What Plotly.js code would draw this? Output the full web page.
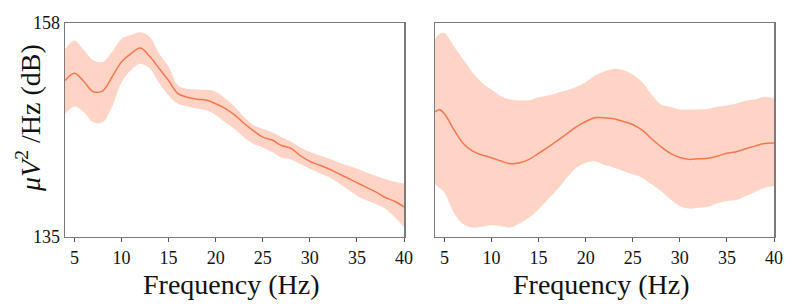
<!DOCTYPE html>
<html>
<head>
<meta charset="utf-8">
<script src="https://cdn.plot.ly/plotly-3.0.1.min.js"></script>
<style>html,body{margin:0;padding:0;background:#fff;}#chart{width:797px;height:307px;}</style>
</head>
<body>
<div id="chart"></div>
<script>
// Left panel
const freqLeft = [4,5,6,7,8,9,10,11,12,13,14,15,16,17,18,19,20,21,22,23,24,25,26,27,28,29,30,31,32,33,34,35,36,37,38,39,40];
const meanLeft = [151.8,152.6,151.7,150.6,150.7,152.2,153.8,154.7,155.3,154.4,153.1,151.8,150.4,150.0,149.8,149.7,149.3,148.8,148.1,147.2,146.4,145.7,145.4,144.8,144.5,143.7,143.1,142.7,142.3,141.8,141.3,140.8,140.3,139.8,139.2,138.8,138.2];
const upperLeft = [155.2,156.1,155.1,154.0,153.8,154.9,156.3,156.7,157.0,156.5,154.7,153.3,151.3,150.9,150.85,150.8,150.6,149.9,149.0,147.9,147.0,146.6,146.2,145.7,145.2,144.6,144.1,143.75,143.4,143.0,142.65,142.3,141.9,141.55,141.2,140.9,140.7];
const lowerLeft = [148.2,149.0,148.4,147.3,147.3,149.0,151.6,152.9,153.6,153.1,151.5,150.2,149.3,149.0,148.8,148.6,148.1,147.3,146.6,145.7,145.0,144.6,144.1,143.5,143.3,142.8,142.3,141.85,141.4,140.8,140.1,139.4,138.9,138.5,138.0,137.1,136.0];

// Right panel
const freqRight = [4,4.5,5,6,7,8,9,10,11,12,13,14,15,16,17,18,19,20,21,22,23,24,25,26,27,28,29,30,31,32,33,34,35,36,37,38,39,40];
const meanRight = [148.43,148.65,148.22,146.53,145.03,144.21,143.78,143.49,143.13,142.84,142.95,143.31,143.96,144.64,145.32,146.07,146.82,147.39,147.79,147.79,147.68,147.39,147.07,146.46,145.53,144.67,143.96,143.52,143.31,143.38,143.42,143.67,143.96,144.13,144.46,144.74,145.03,145.07];
const upperRight = [156.28,156.85,156.93,155.49,154.06,152.63,151.55,150.83,150.12,149.76,149.65,149.69,150.01,150.19,150.48,150.76,151.12,151.62,152.34,152.80,153.06,152.91,152.45,151.62,150.30,149.22,148.97,148.68,148.68,148.68,148.76,148.97,149.11,149.33,149.65,149.76,150.05,149.87];
const lowerRight = [140.62,140.2,139.73,137.58,136.32,135.96,136.07,136.22,136.14,135.96,136.43,137.04,137.94,139.01,140.09,141.34,142.41,142.95,143.09,142.70,142.41,142.06,141.70,141.34,140.62,139.91,139.01,138.29,138.01,138.11,138.22,138.58,138.83,138.94,139.37,139.80,140.26,140.44];

const xTicks = [5,10,15,20,25,30,35,40];
const yTicks = [135,158];
const xTitle = 'Frequency (Hz)';
const yTitle = '<i>μV</i><sup>2</sup> /Hz (dB)';

const lineColor = '#f5774e';
const fillColor = 'rgba(252,170,140,0.5)';

function band(x, lo, hi, mean, xa, ya) {
  return [
    {x: x, y: lo, xaxis: xa, yaxis: ya, mode: 'lines', line: {width: 0, shape: 'spline'}, hoverinfo: 'skip', showlegend: false},
    {x: x, y: hi, xaxis: xa, yaxis: ya, mode: 'lines', line: {width: 0, shape: 'spline'}, fill: 'tonexty', fillcolor: fillColor, hoverinfo: 'skip', showlegend: false},
    {x: x, y: mean, xaxis: xa, yaxis: ya, mode: 'lines', line: {color: lineColor, width: 1.5, shape: 'spline'}, showlegend: false}
  ];
}

const data = [].concat(
  band(freqLeft, lowerLeft, upperLeft, meanLeft, 'x', 'y'),
  band(freqRight, lowerRight, upperRight, meanRight, 'x2', 'y2')
);

const fam = '"Liberation Serif", "DejaVu Serif", serif';
const axisCommon = {
  range: [4, 40], tickvals: xTicks, ticks: 'outside', ticklen: 4, tickcolor: '#555', tickwidth: 1,
  showline: true, linecolor: '#7a7a7a', linewidth: 1.5, mirror: true, showgrid: false, zeroline: false,
  tickfont: {family: fam, size: 18, color: '#111'}
};
const yCommon = {
  range: [135, 158], showline: true, linecolor: '#7a7a7a', linewidth: 1.5, mirror: true,
  showgrid: false, zeroline: false, domain: [0.2296, 0.925]
};

const titleFont = {family: fam, size: 28, color: '#111'};
const layout = {
  width: 797, height: 307,
  margin: {l: 0, r: 0, t: 0, b: 0},
  paper_bgcolor: '#fff', plot_bgcolor: '#fff',
  font: {family: fam, color: '#111'},
  xaxis: Object.assign({}, axisCommon, {domain: [65/797, 404/797], anchor: 'y'}),
  xaxis2: Object.assign({}, axisCommon, {domain: [435/797, 774/797], anchor: 'y2'}),
  yaxis: Object.assign({}, yCommon, {anchor: 'x', tickvals: yTicks, ticks: '',
    tickfont: {family: fam, size: 18, color: '#111'}}),
  yaxis2: Object.assign({}, yCommon, {anchor: 'x2', tickvals: yTicks, showticklabels: false, ticks: ''}),
  annotations: [
    {text: yTitle, textangle: -90, xref: 'paper', yref: 'paper',
     x: 29/797, y: 1 - 118/307, xanchor: 'center', yanchor: 'middle', showarrow: false,
     font: {family: fam, size: 28, color: '#111'}},
    {text: xTitle, xref: 'paper', yref: 'paper', x: 231/797, y: 1 - 284/307,
     xanchor: 'center', yanchor: 'middle', showarrow: false, font: titleFont},
    {text: xTitle, xref: 'paper', yref: 'paper', x: 601/797, y: 1 - 284/307,
     xanchor: 'center', yanchor: 'middle', showarrow: false, font: titleFont}
  ],
  showlegend: false
};

Plotly.newPlot('chart', data, layout, {displayModeBar: false, staticPlot: true});
</script>
</body>
</html>
